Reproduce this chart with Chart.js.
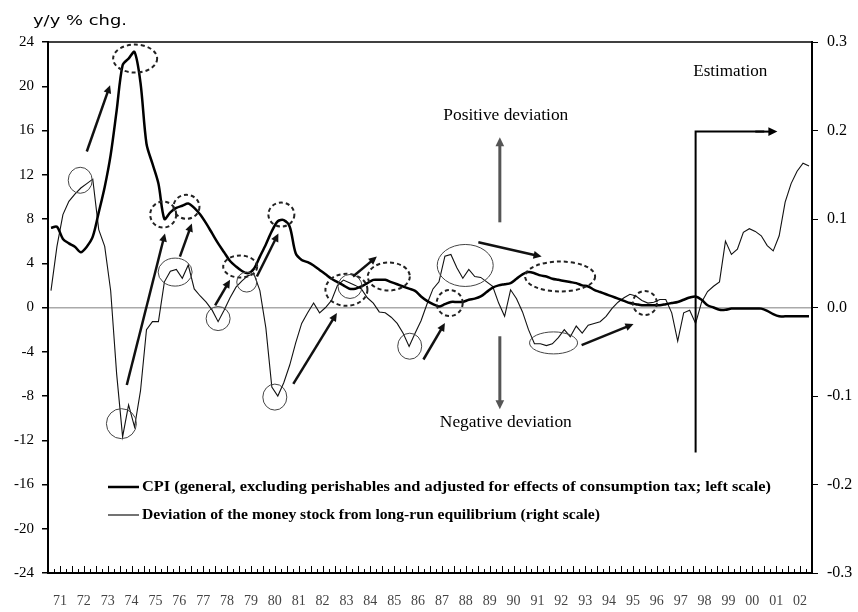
<!DOCTYPE html>
<html>
<head>
<meta charset="utf-8">
<script src="https://cdn.jsdelivr.net/npm/chart.js@4.4.1/dist/chart.umd.min.js"></script>
<style>
  html, body { margin: 0; padding: 0; background: #fff; }
  #wrap { width: 858px; height: 612px; }
</style>
</head>
<body>
<div id="wrap"><canvas id="chart" width="858" height="612"></canvas></div>
<script>
// years on the x axis (one label per year, 4 quarters each)
const yearLabels = ['71','72','73','74','75','76','77','78','79','80','81','82','83','84','85','86',
                    '87','88','89','90','91','92','93','94','95','96','97','98','99','00','01','02'];

// CPI y/y % chg, quarterly 1971Q1 - 2002Q4 (left scale)
const cpi = [
  7.2, 7.3, 6.2, 5.8,   5.5, 5.0, 5.5, 6.4,   8.6, 10.9, 13.8, 17.8,   21.9, 22.5, 23.1, 20.3,
  14.8, 13.0, 11.2, 8.0,   8.6, 9.0, 9.2, 9.4,   9.0, 8.4, 7.6, 6.7,   5.8, 5.0, 4.2, 3.7,
  3.3, 3.1, 3.5, 4.6,   5.7, 6.9, 7.8, 7.9,   7.3, 4.9, 4.3, 4.1,   3.8, 3.4, 3.0, 2.6,
  2.3, 2.0, 1.7, 1.7,   1.9, 2.2, 2.5, 2.5,   2.5, 2.3, 2.1, 1.9,   1.7, 1.5, 1.0, 0.6,
  0.3, 0.1, 0.3, 0.5,   0.5, 0.5, 0.7, 0.8,   1.0, 1.4, 1.8, 2.0,   2.1, 2.2, 2.6, 3.0,
  3.2, 3.1, 2.9, 2.8,   2.6, 2.5, 2.4, 2.3,   2.2, 2.0, 1.9, 1.6,   1.4, 1.2, 1.0, 0.8,
  0.6, 0.4, 0.3, 0.2,   0.2, 0.2, 0.2, 0.3,   0.4, 0.5, 0.7, 0.9,   1.0, 0.7, 0.2, 0.0,
  -0.2, -0.2, -0.1, -0.1,   -0.1, -0.1, -0.1, -0.1,   -0.3, -0.6, -0.8, -0.8,   -0.8, -0.8, -0.8, -0.8
];

// deviation of money stock from long-run equilibrium, quarterly (right scale)
const deviation = [
  0.019, 0.069, 0.105, 0.120,   0.128, 0.135, 0.140, 0.145,   0.088, 0.069, 0.019, -0.075,   -0.146, -0.110, -0.135, -0.094,
  -0.025, -0.016, -0.016, 0.029,   0.041, 0.043, 0.033, 0.048,   0.021, 0.013, 0.006, -0.003,   -0.016, -0.003, 0.011, 0.023,
  0.030, 0.036, 0.038, 0.019,   -0.023, -0.090, -0.100, -0.085,   -0.065, -0.040, -0.018, -0.006,   0.005, -0.006, 0.000, 0.008,
  0.025, 0.031, 0.028, 0.025,   0.021, 0.011, 0.005, -0.005,   -0.006, -0.011, -0.018, -0.029,   -0.044, -0.029, -0.015, 0.004,
  0.021, 0.029, 0.058, 0.060,   0.045, 0.033, 0.043, 0.035,   0.034, 0.029, 0.024, 0.005,   -0.010, 0.020, 0.010, -0.005,
  -0.025, -0.041, -0.041, -0.043,   -0.041, -0.034, -0.025, -0.033,   -0.021, -0.029, -0.020, -0.018,   -0.016, -0.010, -0.001, 0.006,
  0.011, 0.015, 0.013, 0.008,   0.005, 0.006, 0.009, 0.009,   -0.006, -0.038, -0.006, -0.003,   -0.018, 0.006, 0.018, 0.024,
  0.029, 0.075, 0.060, 0.066,   0.085, 0.089, 0.086, 0.081,   0.070, 0.064, 0.081, 0.119,   0.140, 0.154, 0.163, 0.160
];

const serif = '"Liberation Serif", "Times New Roman", serif';

// annotation marks, in quarter index / left-scale units
const dashedRings = [
  {i: 14.1, v: 22.5, rx: 22, ry: 14},
  {i: 18.8, v: 8.4, rx: 13, ry: 13},
  {i: 22.7, v: 9.1, rx: 13, ry: 12},
  {i: 31.7, v: 3.7, rx: 17, ry: 11},
  {i: 38.6, v: 8.4, rx: 13, ry: 12},
  {i: 49.5, v: 1.6, rx: 21, ry: 16},
  {i: 56.6, v: 2.8, rx: 21, ry: 14},
  {i: 66.8, v: 0.4, rx: 13, ry: 13},
  {i: 85.3, v: 2.8, rx: 35, ry: 15},
  {i: 99.5, v: 0.4, rx: 12, ry: 12}
];
const solidRings = [
  {i: 4.9, v: 11.5, rx: 12, ry: 13},
  {i: 11.8, v: -10.5, rx: 15, ry: 15},
  {i: 20.8, v: 3.2, rx: 17, ry: 14},
  {i: 28.0, v: -1.0, rx: 12, ry: 12},
  {i: 32.8, v: 2.3, rx: 10, ry: 10},
  {i: 37.5, v: -8.1, rx: 12, ry: 13},
  {i: 50.1, v: 1.9, rx: 12, ry: 12},
  {i: 60.1, v: -3.5, rx: 12, ry: 13},
  {i: 69.4, v: 3.8, rx: 28, ry: 21},
  {i: 84.2, v: -3.2, rx: 24, ry: 11}
];
const arrows = [
  {i0: 6.0, v0: 14.1, i1: 9.9, v1: 20.1},
  {i0: 12.7, v0: -7.0, i1: 19.1, v1: 6.7},
  {i0: 21.6, v0: 4.6, i1: 23.6, v1: 7.6},
  {i0: 27.5, v0: 0.2, i1: 30.0, v1: 2.5},
  {i0: 34.5, v0: 2.8, i1: 38.1, v1: 6.7},
  {i0: 40.6, v0: -6.9, i1: 47.9, v1: -0.5},
  {i0: 50.6, v0: 2.8, i1: 54.6, v1: 4.6},
  {i0: 62.4, v0: -4.7, i1: 66.0, v1: -1.4},
  {i0: 71.6, v0: 5.9, i1: 82.2, v1: 4.6},
  {i0: 88.9, v0: -3.4, i1: 97.6, v1: -1.5}
];

function arrowHead(ctx, x0, y0, x1, y1, size) {
  const a = Math.atan2(y1 - y0, x1 - x0);
  ctx.beginPath();
  ctx.moveTo(x1, y1);
  ctx.lineTo(x1 - size * Math.cos(a - 0.45), y1 - size * Math.sin(a - 0.45));
  ctx.lineTo(x1 - size * Math.cos(a + 0.45), y1 - size * Math.sin(a + 0.45));
  ctx.closePath();
  ctx.fill();
}

function drawArrow(ctx, x0, y0, x1, y1, width, color, head) {
  const a = Math.atan2(y1 - y0, x1 - x0);
  ctx.save();
  ctx.strokeStyle = color;
  ctx.fillStyle = color;
  ctx.lineWidth = width;
  ctx.beginPath();
  ctx.moveTo(x0, y0);
  ctx.lineTo(x1 - head * 0.7 * Math.cos(a), y1 - head * 0.7 * Math.sin(a));
  ctx.stroke();
  arrowHead(ctx, x0, y0, x1, y1, head);
  ctx.restore();
}

// the scanned original has rather wide lettering, so texts are stretched to its widths
function wideText(ctx, text, x, y, width) {
  const s = width / ctx.measureText(text).width;
  ctx.save();
  ctx.translate(x, y);
  ctx.scale(s, 1);
  ctx.fillText(text, 0, 0);
  ctx.restore();
}

const decorations = {
  id: 'decorations',
  afterDatasetsDraw(chart) {
    const ctx = chart.ctx;
    const x = chart.scales.x, y = chart.scales.y;
    const area = chart.chartArea;
    const px = i => x.getPixelForValue(i);
    const py = v => y.getPixelForValue(v);

    // frame
    ctx.save();
    ctx.strokeStyle = '#000';
    ctx.lineWidth = 1.5;
    ctx.beginPath();
    ctx.moveTo(area.left, area.top);
    ctx.lineTo(area.right, area.top);
    ctx.stroke();

    // quarter ticks on the bottom axis
    ctx.lineWidth = 1;
    for (let q = 0; q <= cpi.length; q++) {
      const xx = Math.round(px(q - 0.5)) + 0.5;
      const len = q % 2 === 0 ? 7 : 4;
      ctx.beginPath();
      ctx.moveTo(xx, area.bottom);
      ctx.lineTo(xx, area.bottom - len);
      ctx.stroke();
    }

    // rings
    ctx.strokeStyle = '#222';
    ctx.lineWidth = 2;
    ctx.setLineDash([4, 3]);
    dashedRings.forEach(r => {
      ctx.beginPath();
      ctx.ellipse(px(r.i), py(r.v), r.rx, r.ry, 0, 0, Math.PI * 2);
      ctx.stroke();
    });
    ctx.setLineDash([]);
    ctx.strokeStyle = '#444';
    ctx.lineWidth = 1;
    solidRings.forEach(r => {
      ctx.beginPath();
      ctx.ellipse(px(r.i), py(r.v), r.rx, r.ry, 0, 0, Math.PI * 2);
      ctx.stroke();
    });

    // black arrows
    arrows.forEach(a => drawArrow(ctx, px(a.i0), py(a.v0), px(a.i1), py(a.v1), 2.5, '#111', 9));

    // positive / negative deviation
    drawArrow(ctx, px(75.2), py(7.7), px(75.2), py(15.4), 3, '#555', 10);
    drawArrow(ctx, px(75.2), py(-2.6), px(75.2), py(-9.2), 3, '#555', 10);

    // estimation bracket
    ctx.strokeStyle = '#000';
    ctx.lineWidth = 2;
    ctx.beginPath();
    ctx.moveTo(px(108), py(-13.1));
    ctx.lineTo(px(108), py(15.9));
    ctx.lineTo(px(119.5), py(15.9));
    ctx.stroke();
    drawArrow(ctx, px(118), py(15.9), px(121.7), py(15.9), 2, '#000', 10);

    // texts
    ctx.fillStyle = '#000';
    ctx.textAlign = 'center';
    ctx.textBaseline = 'middle';
    ctx.font = '16px ' + serif;
    wideText(ctx, 'Positive deviation', px(76.2), py(17.3), 125);
    wideText(ctx, 'Negative deviation', px(76.2), py(-10.4), 132);
    wideText(ctx, 'Estimation', px(113.8), py(21.3), 74);

    // legend
    ctx.textAlign = 'left';
    ctx.font = 'bold 15px ' + serif;
    const legendWidths = [629, 458];
    chart.data.datasets.forEach((ds, k) => {
      const yy = 487 + k * 28;
      ctx.strokeStyle = '#000';
      ctx.lineWidth = ds.borderWidth;
      ctx.beginPath();
      ctx.moveTo(108, yy);
      ctx.lineTo(139, yy);
      ctx.stroke();
      wideText(ctx, ds.label, 142, yy, legendWidths[k]);
    });

    // unit label
    ctx.font = '14px "DejaVu Sans", Verdana, sans-serif';
    wideText(ctx, 'y/y % chg.', 33, 21, 94);
    ctx.restore();
  }
};

new Chart(document.getElementById('chart').getContext('2d'), {
  type: 'line',
  data: {
    datasets: [{
      label: 'CPI (general, excluding perishables and adjusted for effects of consumption tax; left scale)',
      data: cpi.map((v, i) => ({x: i, y: v})),
      yAxisID: 'y',
      borderColor: '#000',
      borderWidth: 2.5,
      pointRadius: 0,
      tension: 0.3
    }, {
      label: 'Deviation of the money stock from long-run equilibrium (right scale)',
      data: deviation.map((v, i) => ({x: i, y: v})),
      yAxisID: 'y2',
      borderColor: '#111',
      borderWidth: 1.1,
      pointRadius: 0,
      tension: 0
    }]
  },
  options: {
    responsive: false,
    animation: false,
    devicePixelRatio: 1,
    layout: {padding: {top: 42}},
    plugins: {legend: {display: false}, tooltip: {enabled: false}},
    scales: {
      x: {
        type: 'linear',
        min: -0.5,
        max: cpi.length - 0.5,
        afterBuildTicks: s => { s.ticks = yearLabels.map((l, k) => ({value: k * 4 + 1.5})); },
        afterFit: s => { s.height = 39; },
        grid: {display: false},
        border: {display: true, color: '#000', width: 2},
        ticks: {
          autoSkip: false,
          maxRotation: 0,
          padding: 12,
          color: '#444',
          font: {family: serif, size: 14},
          callback: (v, idx) => yearLabels[idx]
        }
      },
      y: {
        position: 'left',
        min: -24,
        max: 24,
        afterFit: s => { s.width = 48; },
        border: {display: true, color: '#000', width: 2},
        grid: {
          drawOnChartArea: true,
          color: c => c.tick && c.tick.value === 0 ? '#aaa' : 'rgba(0,0,0,0)',
          lineWidth: 1.5,
          tickColor: '#000',
          tickLength: 6
        },
        ticks: {stepSize: 4, padding: 8, color: '#000', font: {family: serif, size: 15}}
      },
      y2: {
        position: 'right',
        min: -0.3,
        max: 0.3,
        afterFit: s => { s.width = 46; },
        border: {display: true, color: '#000', width: 2},
        grid: {drawOnChartArea: false, tickColor: '#000', tickLength: 6},
        ticks: {
          stepSize: 0.1,
          padding: 9,
          color: '#000',
          font: {family: serif, size: 16},
          callback: v => v.toFixed(1)
        }
      }
    }
  },
  plugins: [decorations]
});
</script>
</body>
</html>
